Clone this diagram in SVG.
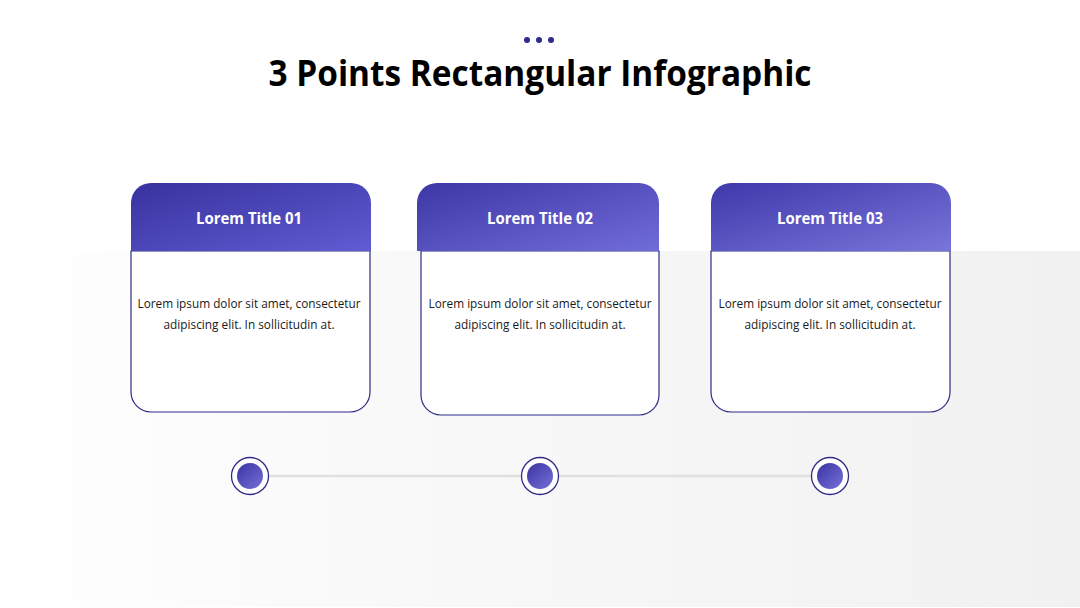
<svg xmlns="http://www.w3.org/2000/svg" width="1080" height="608" viewBox="0 0 1080 608">
  <defs>
    <linearGradient id="bg" x1="0" y1="0" x2="1" y2="0">
      <stop offset="0" stop-color="#ffffff"/>
      <stop offset="0.35" stop-color="#f9f9fa"/>
      <stop offset="1" stop-color="#f1f1f2"/>
    </linearGradient>
    <linearGradient id="h1" x1="0" y1="0" x2="1" y2="1">
      <stop offset="0" stop-color="#38329e"/>
      <stop offset="1" stop-color="#605cd2"/>
    </linearGradient>
    <linearGradient id="h2" x1="0" y1="0" x2="1" y2="1">
      <stop offset="0" stop-color="#3d37a6"/>
      <stop offset="1" stop-color="#706cd8"/>
    </linearGradient>
    <linearGradient id="h3" x1="0" y1="0" x2="1" y2="1">
      <stop offset="0" stop-color="#3e38aa"/>
      <stop offset="1" stop-color="#7a75da"/>
    </linearGradient>
    <linearGradient id="dot" x1="0" y1="0" x2="1" y2="1">
      <stop offset="0" stop-color="#3a34a2"/>
      <stop offset="1" stop-color="#7470d8"/>
    </linearGradient>
  </defs>
  <style>
    .title{font-family:"Open Sans","Liberation Sans",sans-serif;font-weight:700;font-size:35px;fill:#000;}
    .htext{font-family:"Open Sans","Liberation Sans",sans-serif;font-weight:700;font-size:16px;fill:#fff;}
    .body{font-family:"Open Sans","Liberation Sans",sans-serif;font-size:12.5px;fill:#1a1a1a;}
    .card{fill:#fff;stroke:#2f2a86;stroke-width:1.2;}
    .ring{fill:#fff;stroke:#2f2a86;stroke-width:1.3;}
  </style>
  <rect x="0" y="0" width="1080" height="608" fill="#ffffff"/>
  <rect x="0" y="251" width="1080" height="356" fill="url(#bg)"/>

  <g id="header">
    <circle cx="527" cy="40" r="3" fill="#2e2a8e"/>
    <circle cx="539" cy="40" r="3" fill="#2e2a8e"/>
    <circle cx="551" cy="40" r="3" fill="#2e2a8e"/>
    <text class="title" x="540" y="86" text-anchor="middle" textLength="543" lengthAdjust="spacingAndGlyphs">3 Points Rectangular Infographic</text>
  </g>

  <g id="connectors">
    <line x1="250" y1="476" x2="830" y2="476" stroke="#e0e0e2" stroke-width="2.5"/>
  </g>

  <g id="card1">
    <path class="card" d="M131,251 H370 V392 A20,20 0 0 1 350,412 H151 A20,20 0 0 1 131,392 Z"/>
    <path d="M131,251 V203 A20,20 0 0 1 151,183 H351 A20,20 0 0 1 371,203 V251 Z" fill="url(#h1)"/>
    <text class="htext" x="249" y="224" text-anchor="middle" textLength="106" lengthAdjust="spacingAndGlyphs">Lorem Title 01</text>
    <text class="body" x="249" y="308" text-anchor="middle" textLength="223" lengthAdjust="spacingAndGlyphs">Lorem ipsum dolor sit amet, consectetur</text>
    <text class="body" x="249" y="329" text-anchor="middle" textLength="171" lengthAdjust="spacingAndGlyphs">adipiscing elit. In sollicitudin at.</text>
  </g>

  <g id="card2">
    <path class="card" d="M421,251 H659 V395 A20,20 0 0 1 639,415 H441 A20,20 0 0 1 421,395 Z"/>
    <path d="M417,251 V203 A20,20 0 0 1 437,183 H639 A20,20 0 0 1 659,203 V251 Z" fill="url(#h2)"/>
    <text class="htext" x="540" y="224" text-anchor="middle" textLength="106" lengthAdjust="spacingAndGlyphs">Lorem Title 02</text>
    <text class="body" x="540" y="308" text-anchor="middle" textLength="223" lengthAdjust="spacingAndGlyphs">Lorem ipsum dolor sit amet, consectetur</text>
    <text class="body" x="540" y="329" text-anchor="middle" textLength="171" lengthAdjust="spacingAndGlyphs">adipiscing elit. In sollicitudin at.</text>
  </g>

  <g id="card3">
    <path class="card" d="M711,251 H950 V392 A20,20 0 0 1 930,412 H731 A20,20 0 0 1 711,392 Z"/>
    <path d="M711,251 V203 A20,20 0 0 1 731,183 H931 A20,20 0 0 1 951,203 V251 Z" fill="url(#h3)"/>
    <text class="htext" x="830" y="224" text-anchor="middle" textLength="106" lengthAdjust="spacingAndGlyphs">Lorem Title 03</text>
    <text class="body" x="830" y="308" text-anchor="middle" textLength="223" lengthAdjust="spacingAndGlyphs">Lorem ipsum dolor sit amet, consectetur</text>
    <text class="body" x="830" y="329" text-anchor="middle" textLength="171" lengthAdjust="spacingAndGlyphs">adipiscing elit. In sollicitudin at.</text>
  </g>

  <g id="point1">
    <circle class="ring" cx="250" cy="476" r="18.5"/>
    <circle cx="250" cy="476" r="13" fill="url(#dot)"/>
  </g>
  <g id="point2">
    <circle class="ring" cx="540" cy="476" r="18.5"/>
    <circle cx="540" cy="476" r="13" fill="url(#dot)"/>
  </g>
  <g id="point3">
    <circle class="ring" cx="830" cy="476" r="18.5"/>
    <circle cx="830" cy="476" r="13" fill="url(#dot)"/>
  </g>
</svg>
